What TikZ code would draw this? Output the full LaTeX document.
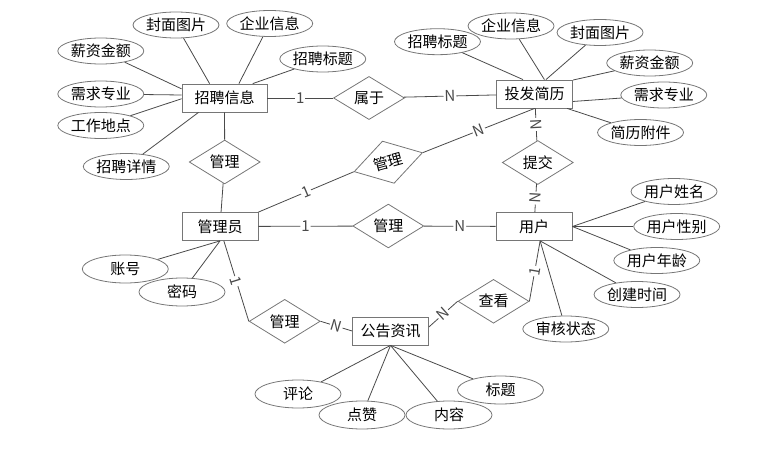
\documentclass[tikz,border=0pt]{standalone}
\usepackage{fontspec}
\setmainfont{Noto Sans CJK SC}
\usetikzlibrary{shapes.geometric}
\definecolor{edgegray}{HTML}{4A4A4A}
\definecolor{boxgray}{HTML}{767676}

\begin{document}
\begin{tikzpicture}[x=1pt, y=-1pt, font=\fontsize{15}{17}\selectfont, line width=0.8pt,
    ent/.style={draw=boxgray, rectangle, minimum width=76pt, minimum height=28pt, inner sep=0pt},
    attr/.style={draw=boxgray, ellipse, minimum width=86pt, minimum height=26pt, inner sep=0pt},
    rel/.style={draw=boxgray, diamond, minimum width=71pt, minimum height=42pt, inner sep=0pt},
    card/.style={midway, sloped, fill=white, inner sep=1pt}]
        \useasboundingbox (0,0) rectangle (771,465);

        % Entities
        \node[ent, minimum width=85pt] (zpxx) at (224.5,98) {招聘信息};
        \node[ent] (tfjl) at (534.7,94) {投发简历};
        \node[ent] (gly) at (220,226.5) {管理员};
        \node[ent] (yh) at (534,226.5) {用户};
        \node[ent] (ggzx) at (390.5,331) {公告资讯};

        % Relations
        \node[rel] (sy) at (369,98) {属于};
        \node[rel] (gl1) at (224.7,162) {管理};
        \node[rel, rotate=15.5] (gl2) at (388.3,162.2) {管理};
        \node[rel] (gl3) at (388.3,226) {管理};
        \node[rel] (gl4) at (284.7,321.3) {管理};
        \node[rel] (tj) at (537.8,162.5) {提交};
        \node[rel] (ck) at (493.5,301.3) {查看};

        % Attributes
        \node[attr] (zfm) at (176,25) {封面图片};
        \node[attr] (zqy) at (269.7,23.5) {企业信息};
        \node[attr] (zxz) at (100.8,51) {薪资金额};
        \node[attr] (zbt) at (322.8,59) {招聘标题};
        \node[attr] (zzy) at (100.8,94) {需求专业};
        \node[attr] (zdd) at (100.8,125.5) {工作地点};
        \node[attr] (zxq) at (126.3,166.5) {招聘详情};

        \node[attr] (tbt) at (437.5,41.7) {招聘标题};
        \node[attr] (tqy) at (511,26) {企业信息};
        \node[attr] (tfm) at (600,32.5) {封面图片};
        \node[attr] (txz) at (649.7,63) {薪资金额};
        \node[attr] (tzy) at (663.8,95) {需求专业};
        \node[attr] (tfj) at (640.5,132.5) {简历附件};

        \node[attr] (yxm) at (674,191.5) {用户姓名};
        \node[attr] (yxb) at (676.7,226.5) {用户性别};
        \node[attr] (ynl) at (656.8,260.5) {用户年龄};
        \node[attr] (ysj) at (637,294.5) {创建时间};
        \node[attr] (yzt) at (565.8,329) {审核状态};

        \node[attr, minimum height=28pt] (zh) at (125.3,269) {账号};
        \node[attr, minimum height=28pt] (mm) at (182,292) {密码};

        \node[attr, minimum height=28pt] (pl) at (298,394) {评论};
        \node[attr, minimum height=28pt] (dz) at (362,415) {点赞};
        \node[attr, minimum height=28pt] (nr) at (449,415) {内容};
        \node[attr, minimum height=28pt] (bt) at (500.5,390) {标题};

        % Lines
        \draw[edgegray] (zpxx) -- (sy) node[card] {1};
        \draw[edgegray] (sy) -- (tfjl) node[card] {N};
        \draw[edgegray] (zpxx) -- (gl1);
        \draw[edgegray] (gl1) -- (gly);
        \draw[edgegray] (gly.north east) -- (gl2.west) node[card] {1};
        \draw[edgegray] (gl2.east) -- (tfjl.south) node[card] {N};
        \draw[edgegray] (gly) -- (gl3) node[card] {1};
        \draw[edgegray] (gl3) -- (yh) node[card] {N};
        \draw[edgegray] (tfjl) -- (tj) node[card] {N};
        \draw[edgegray] (tj) -- (yh) node[card] {N};
        \draw[edgegray] (gly.-75) -- (gl4.west) node[card] {1};
        \draw[edgegray] (gl4.east) -- (ggzx.west) node[card] {N};
        \draw[edgegray] (ggzx.6) -- (ck.west) node[card] {N};
        \draw[edgegray] (ck.east) -- (yh.-67) node[card] {1};

        \draw[edgegray] (zfm) -- (zpxx.136);
        \draw[edgegray] (zqy) -- (zpxx.45);
        \draw[edgegray] (zbt) -- (zpxx.27);
        \draw[edgegray] (zxz) -- (zpxx.168);
        \draw[edgegray] (zzy) -- (zpxx.176);
        \draw[edgegray] (zdd) -- (zpxx.181);
        \draw[edgegray] (zxq) -- (zpxx.209);

        \draw[edgegray] (tbt) -- (tfjl.129);
        \draw[edgegray] (tqy) -- (tfjl.56);
        \draw[edgegray] (tfm) -- (tfjl.52);
        \draw[edgegray] (txz) -- (tfjl.20);
        \draw[edgegray] (tzy) -- (tfjl.-11);
        \draw[edgegray] (tfj) -- (tfjl.-24);

        \draw[edgegray] (yxm) -- (yh.east);
        \draw[edgegray] (yxb) -- (yh.east);
        \draw[edgegray] (ynl) -- (yh.east);
        \draw[edgegray] (ysj) -- (yh.-67);
        \draw[edgegray] (yzt) -- (yh.-67);

        \draw[edgegray] (zh) -- (gly.south);
        \draw[edgegray] (mm) -- (gly.south);

        \draw[edgegray] (pl) -- (ggzx.south);
        \draw[edgegray] (dz) -- (ggzx.south);
        \draw[edgegray] (nr) -- (ggzx.south);
        \draw[edgegray] (bt) -- (ggzx.south);
    \end{tikzpicture}
\end{document}
